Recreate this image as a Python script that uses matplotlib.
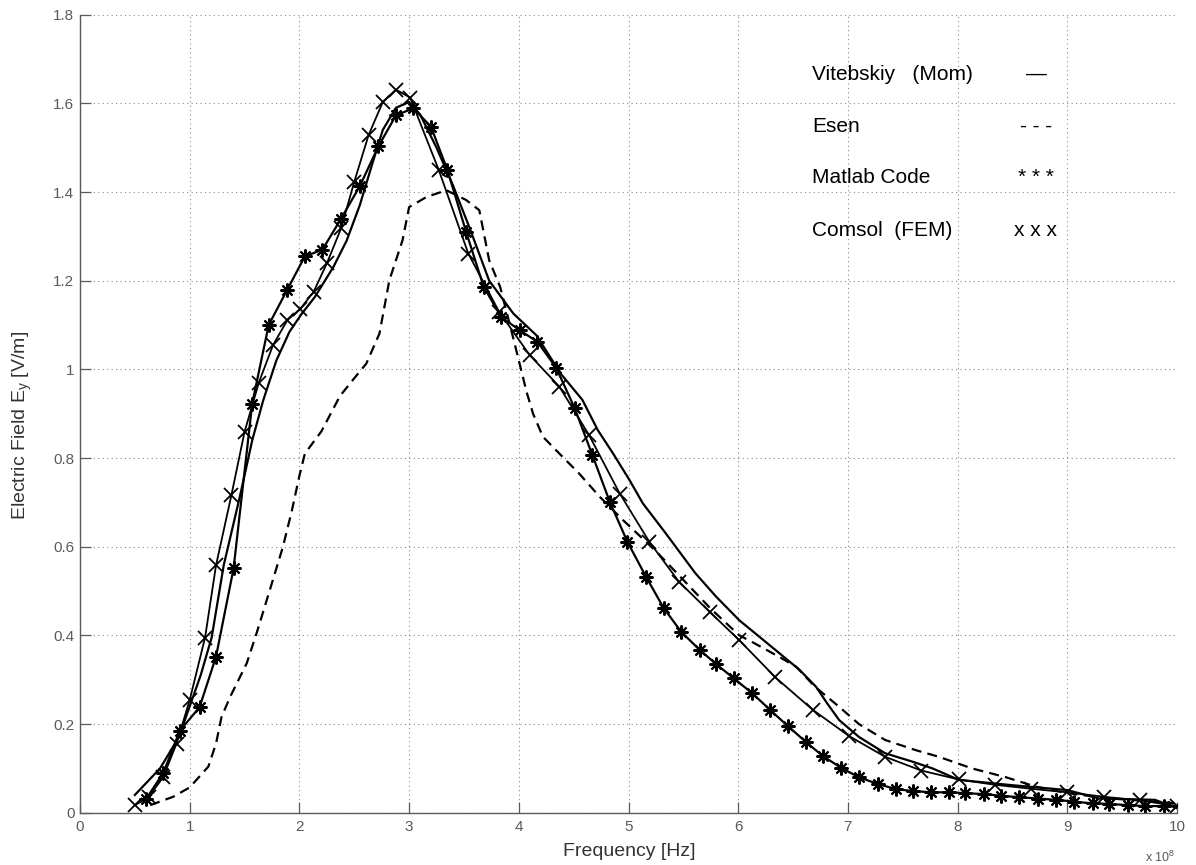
import matplotlib
matplotlib.use("Agg")
import matplotlib.pyplot as plt

plt.rcParams['font.family'] = ['Liberation Sans', 'DejaVu Sans']
plt.rcParams['mathtext.fontset'] = 'custom'
plt.rcParams['mathtext.rm'] = 'Liberation Sans'
plt.rcParams['mathtext.it'] = 'Liberation Sans'

# ---- data (frequency in units of 1e8 Hz, field in V/m) ----
vit_f = [0.5, 0.73, 0.9, 1.0, 1.1, 1.2, 1.31, 1.46, 1.57, 1.67, 1.79, 1.91, 2.02, 2.14,
         2.31, 2.43, 2.55, 2.66, 2.76, 2.88, 3.0, 3.1, 3.25, 3.4, 3.55, 3.73, 3.95, 4.16,
         4.38, 4.58, 4.72, 4.86, 5.01, 5.13, 5.34, 5.61, 5.8, 6.01, 6.34, 6.56, 6.71, 6.81,
         6.92, 7.10, 7.34, 7.59, 7.77, 7.91, 8.01, 8.5, 9.0, 9.29, 9.8, 10.0]
vit_e = [0.04, 0.10, 0.17, 0.24, 0.31, 0.395, 0.558, 0.716, 0.84, 0.93, 1.02, 1.085, 1.125, 1.163,
         1.231, 1.29, 1.37, 1.46, 1.54, 1.59, 1.603, 1.575, 1.50, 1.415, 1.32, 1.20, 1.126, 1.077,
         0.991, 0.931, 0.863, 0.81, 0.75, 0.698, 0.63, 0.54, 0.487, 0.434, 0.367, 0.322, 0.284, 0.247,
         0.209, 0.171, 0.134, 0.115, 0.10, 0.085, 0.074, 0.062, 0.051, 0.032, 0.029, 0.01]

esen_f = [0.64, 0.85, 1.0, 1.17, 1.24, 1.29, 1.37, 1.52, 1.61, 1.73, 1.85, 1.93, 2.0, 2.05, 2.2,
          2.37, 2.5, 2.61, 2.73, 2.82, 2.94, 3.0, 3.16, 3.34, 3.52, 3.64, 3.73, 3.83, 3.95, 4.07,
          4.13, 4.22, 4.37, 4.55, 4.74, 4.95, 5.25, 5.5, 5.75, 6.01, 6.12, 6.37, 6.53, 6.70, 6.92,
          7.10, 7.34, 7.62, 7.83, 8.13, 8.44, 8.71, 9.0, 9.36, 9.95, 10.0]
esen_e = [0.017, 0.036, 0.057, 0.104, 0.156, 0.216, 0.262, 0.337, 0.405, 0.502, 0.60, 0.68, 0.76,
          0.81, 0.86, 0.94, 0.98, 1.013, 1.081, 1.201, 1.291, 1.366, 1.389, 1.404, 1.382, 1.359,
          1.246, 1.186, 1.07, 0.95, 0.90, 0.848, 0.81, 0.765, 0.712, 0.66, 0.59, 0.525, 0.46, 0.40,
          0.386, 0.352, 0.329, 0.284, 0.239, 0.20, 0.164, 0.141, 0.126, 0.10, 0.08, 0.059, 0.044,
          0.033, 0.022, 0.02]

matlab_f = [0.6, 0.76, 0.91, 1.09, 1.24, 1.40, 1.57, 1.72, 1.89, 2.05, 2.21, 2.38, 2.55, 2.72,
            2.88, 3.04, 3.20, 3.35, 3.52, 3.68, 3.84, 4.01, 4.17, 4.34, 4.51, 4.67, 4.83, 4.99,
            5.16, 5.32, 5.48, 5.65, 5.80, 5.96, 6.13, 6.29, 6.45, 6.62, 6.77, 6.94, 7.10, 7.27,
            7.44, 7.59, 7.76, 7.92, 8.07, 8.24, 8.40, 8.56, 8.73, 8.90, 9.06, 9.23, 9.38, 9.55,
            9.71, 9.88]
matlab_e = [0.03, 0.09, 0.185, 0.238, 0.352, 0.551, 0.923, 1.10, 1.18, 1.255, 1.27, 1.34, 1.413,
            1.503, 1.573, 1.589, 1.547, 1.449, 1.31, 1.186, 1.118, 1.088, 1.062, 1.004, 0.912,
            0.807, 0.701, 0.611, 0.532, 0.462, 0.408, 0.367, 0.335, 0.303, 0.269, 0.232, 0.196,
            0.159, 0.128, 0.101, 0.080, 0.065, 0.053, 0.049, 0.046, 0.046, 0.044, 0.042, 0.038,
            0.035, 0.032, 0.029, 0.025, 0.021, 0.020, 0.017, 0.015, 0.015]

comsol_f = [0.5, 0.626, 0.76, 0.88, 1.0, 1.14, 1.24, 1.38, 1.50, 1.63, 1.76, 1.89, 2.01, 2.13,
            2.25, 2.38, 2.50, 2.63, 2.76, 2.88, 3.01, 3.27, 3.54, 3.82, 4.10, 4.37, 4.64, 4.92,
            5.19, 5.46, 5.74, 6.01, 6.34, 6.68, 7.01, 7.34, 7.67, 8.01, 8.34, 8.67, 9.0, 9.33,
            9.66, 10.0]
comsol_e = [0.017, 0.035, 0.081, 0.156, 0.254, 0.395, 0.558, 0.716, 0.859, 0.97, 1.055, 1.111,
            1.137, 1.175, 1.239, 1.318, 1.423, 1.528, 1.603, 1.631, 1.613, 1.45, 1.261, 1.13,
            1.032, 0.961, 0.852, 0.72, 0.611, 0.521, 0.453, 0.389, 0.305, 0.232, 0.173, 0.126,
            0.095, 0.075, 0.063, 0.054, 0.046, 0.036, 0.028, 0.015]

legend_names = ['Vitebskiy   (Mom)', 'Esen', 'Matlab Code', 'Comsol  (FEM)']
legend_syms = ['\u2014', '- - -', '* * *', 'x x x']

x_ticks = list(range(0, 11))
y_ticks = [0, 0.2, 0.4, 0.6, 0.8, 1.0, 1.2, 1.4, 1.6, 1.8]
y_ticklabels = ['0', '0.2', '0.4', '0.6', '0.8', '1', '1.2', '1.4', '1.6', '1.8']

# ---- figure ----
W, H = 1196, 865
fig = plt.figure(figsize=(W / 100, H / 100), dpi=100)
ax = fig.add_axes([80 / W, 1 - 812.7 / H, 1097 / W, 798 / H])

ax.plot(vit_f, vit_e, color='black', lw=1.6)
ax.plot(esen_f, esen_e, color='black', lw=1.6, linestyle=(0, (4.5, 2.8)))
ax.plot(matlab_f, matlab_e, color='black', lw=1.6, marker=(8, 2, 0),
        markersize=10, markeredgewidth=1.5)
ax.plot(comsol_f, comsol_e, color='black', lw=1.3, marker='x',
        markersize=9.5, markeredgewidth=1.3)

ax.set_xlim(0, 10)
ax.set_ylim(0, 1.8)
ax.set_xticks(x_ticks)
ax.set_xticklabels([str(t) for t in x_ticks])
ax.set_yticks(y_ticks)
ax.set_yticklabels(y_ticklabels)

tick_col = '#5a5a5a'
ax.tick_params(direction='in', length=8, width=0.9, color=tick_col, labelcolor=tick_col,
               labelsize=11, top=False, right=False)
ax.tick_params(axis='x', pad=5)
ax.tick_params(axis='y', pad=4)
for s in ['top', 'right']:
    ax.spines[s].set_visible(False)
for s in ['left', 'bottom']:
    ax.spines[s].set_color(tick_col)
    ax.spines[s].set_linewidth(1.0)

ax.grid(True, color='#8a8a8a', linestyle=(0, (1, 3)), linewidth=0.8)
ax.set_axisbelow(True)

# axis labels
fig.text(629 / W, 1 - 852 / H, 'Frequency [Hz]', ha='center', va='center',
         fontsize=14, color='#333333')
fig.text(22 / W, 1 - 425 / H, r'Electric Field E$_\mathrm{y}$ [V/m]', ha='center', va='center',
         rotation=90, fontsize=14, color='#333333')
fig.text(1145 / W, 1 - 857 / H, r'x 10$^{8}$', ha='left', va='center', fontsize=9, color=tick_col)

# in-plot legend written as text
base_y = [80, 131.5, 183.3, 236.5]
for name, sym, by in zip(legend_names, legend_syms, base_y):
    yf = (812.7 - by) / 798
    ax.text((812 - 80) / 1097, yf, name, transform=ax.transAxes, ha='left', va='baseline',
            fontsize=15, color='black')
    ax.text((1036 - 80) / 1097, yf, sym, transform=ax.transAxes, ha='center', va='baseline',
            fontsize=15, color='black')

fig.savefig('out.png', dpi=100)
